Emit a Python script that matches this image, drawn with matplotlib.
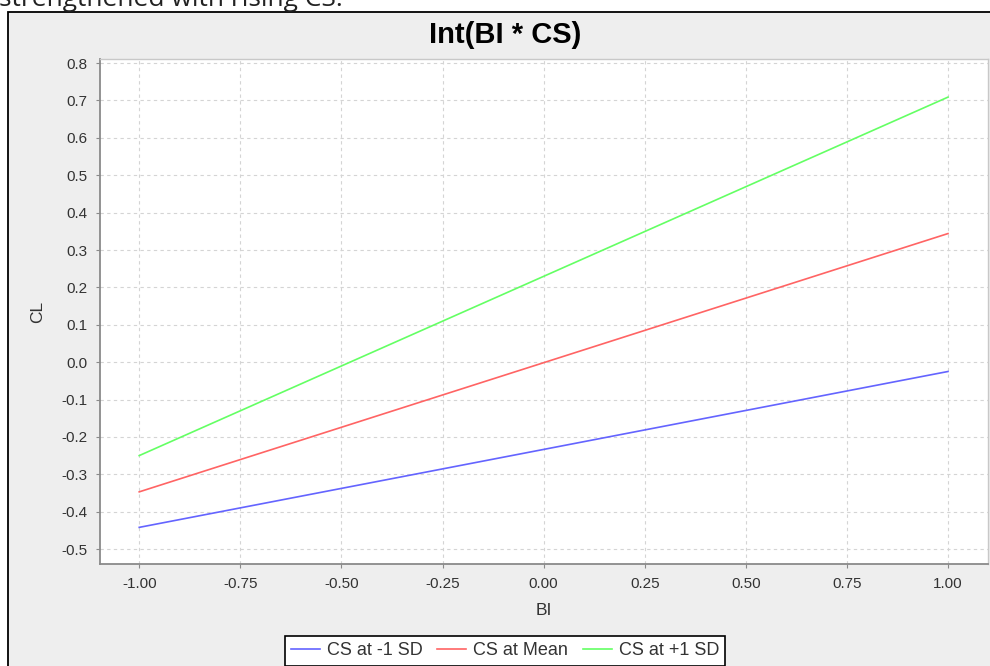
import matplotlib
matplotlib.use("Agg")
import matplotlib.pyplot as plt
from matplotlib.patches import Rectangle

# data
bi = [-1.0, 1.0]
cs_minus = [-0.442, -0.025]
cs_mean = [-0.347, 0.344]
cs_plus = [-0.250, 0.709]
series_labels = ["CS at -1 SD", "CS at Mean", "CS at +1 SD"]
series_colors = ["#6464FF", "#FF6464", "#64FF64"]
x_ticks = [-1.0, -0.75, -0.5, -0.25, 0.0, 0.25, 0.5, 0.75, 1.0]
y_ticks = [-0.5, -0.4, -0.3, -0.2, -0.1, 0.0, 0.1, 0.2, 0.3, 0.4, 0.5, 0.6, 0.7, 0.8]

W, H = 990, 666
plt.rcParams["font.family"] = ["Liberation Sans", "DejaVu Sans"]

fig = plt.figure(figsize=(W / 100, H / 100), dpi=100)
fig.patch.set_facecolor("white")

# chart panel (grey background with black border, runs off the canvas)
panel = Rectangle((8 / W, -20 / H), 1.2, (H - 12 + 20) / H,
                  transform=fig.transFigure, facecolor="#EEEEEE",
                  edgecolor="black", linewidth=1.3, zorder=-5)
fig.patches.append(panel)

# page text above the chart, cut off at the top
fig.text(-1 / W, 1 - 6 / H, "strengthened with rising CS.",
         family=["Open Sans", "DejaVu Sans"], fontsize=19,
         va="baseline", ha="left", color="#222222")

ax = fig.add_axes([100 / W, 1 - 564 / H, (988 - 100) / W, (564 - 59) / H])
ax.set_zorder(2)
ax.set_facecolor("white")

for ys, lab, col in zip([cs_minus, cs_mean, cs_plus], series_labels, series_colors):
    ax.plot(bi, ys, color=col, linewidth=1.2, label=lab)

ax.set_xlim(-1.097, 1.099)
ax.set_ylim(-0.54, 0.811)
ax.set_xticks(x_ticks)
ax.set_xticklabels([f"{v:.2f}" for v in x_ticks])
ax.set_yticks(y_ticks)
ax.set_yticklabels([f"{v:.1f}" for v in y_ticks])

ax.grid(True, color="#D4D4D4", linestyle=(0, (3, 3)), linewidth=0.8)
ax.set_axisbelow(True)

for side in ["left", "bottom"]:
    ax.spines[side].set_color("#8A8A8A")
    ax.spines[side].set_linewidth(1.3)
for side in ["right", "top"]:
    ax.spines[side].set_color("#C8C8C8")
    ax.spines[side].set_linewidth(1.0)

ax.tick_params(axis="both", direction="out", length=3, width=0.8,
               color="#8A8A8A", labelsize=11, labelcolor="#333333")
ax.tick_params(axis="y", pad=6)
ax.tick_params(axis="x", pad=6)

ax.set_xlabel("BI", fontsize=12.5, color="#333333", labelpad=9)
ax.set_ylabel("CL", fontsize=12.5, color="#333333", labelpad=12)

fig.text(505 / W, 1 - 43 / H, "Int(BI * CS)", fontsize=21, fontweight="bold",
         ha="center", va="baseline", color="black")

leg = fig.legend(loc="upper center", bbox_to_anchor=(505 / W, 1 - 636 / H),
                 ncol=3, fontsize=13, frameon=True, fancybox=False,
                 edgecolor="black", facecolor="white", framealpha=1,
                 handlelength=1.6, handletextpad=0.4, columnspacing=0.8,
                 borderpad=0.35, borderaxespad=0)
leg.get_frame().set_linewidth(1.2)
for t in leg.get_texts():
    t.set_color("#333333")

fig.savefig("out.png", dpi=100)
